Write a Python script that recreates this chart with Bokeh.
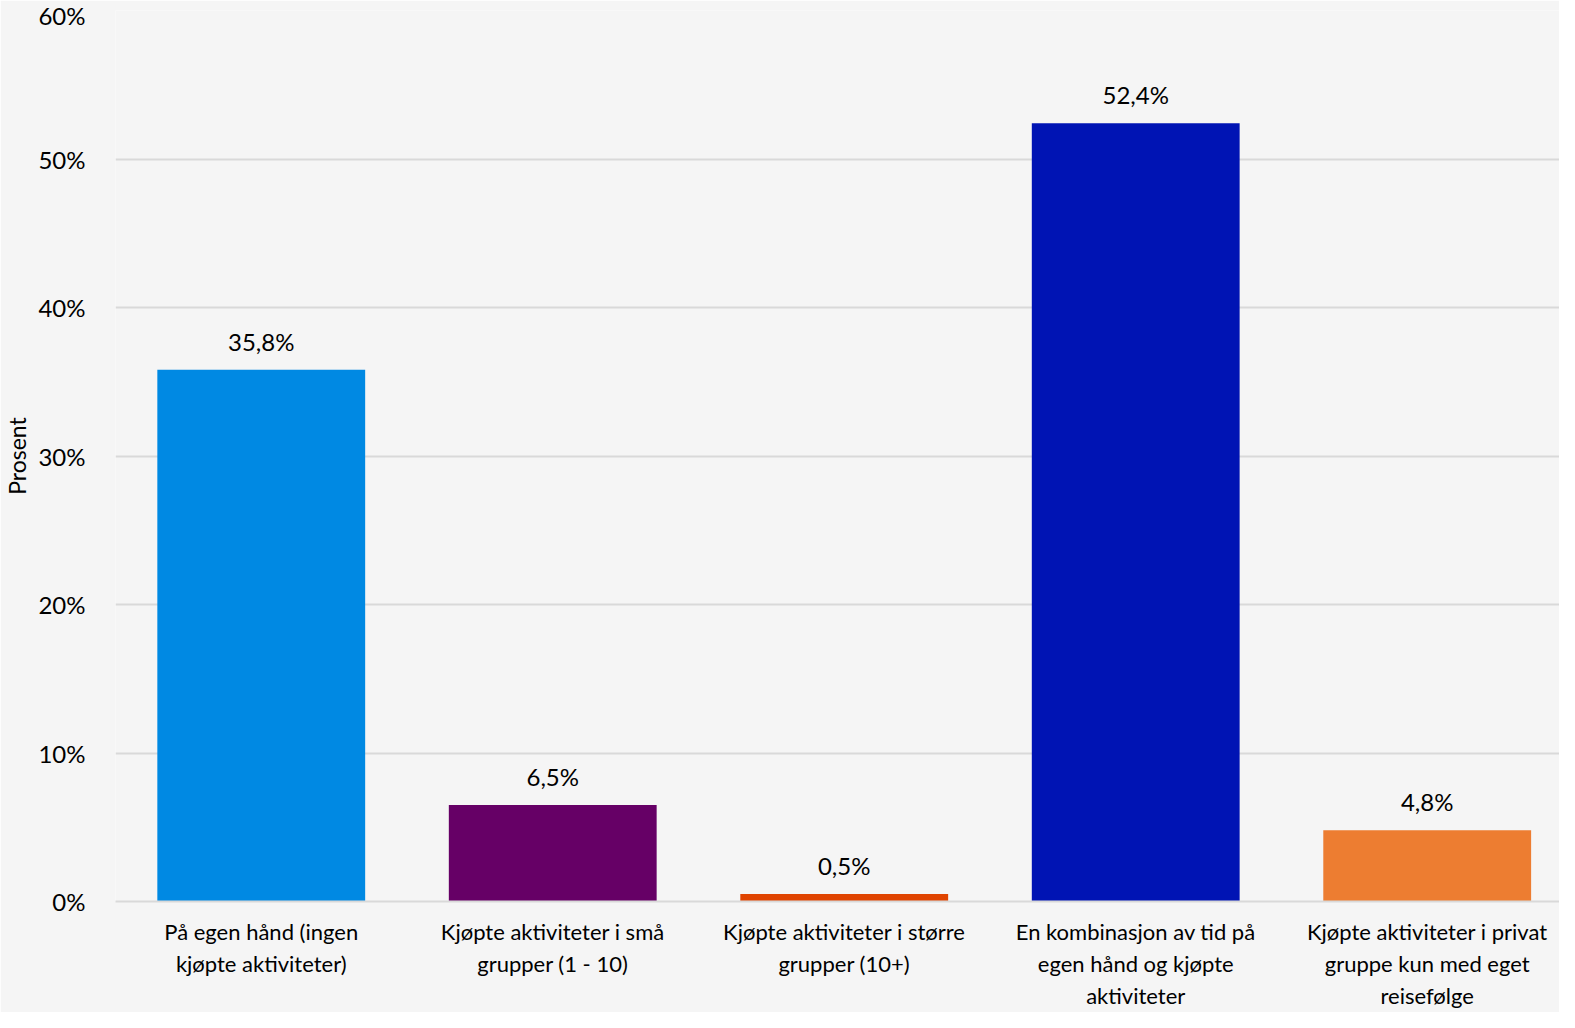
from bokeh.plotting import figure
from bokeh.models import ColumnDataSource, Range1d, FixedTicker, LabelSet
from bokeh.core.properties import value
from bokeh.embed import file_html
from bokeh.resources import INLINE

categories = [
    "På egen hånd (ingen\nkjøpte aktiviteter)",
    "Kjøpte aktiviteter i små\ngrupper (1 - 10)",
    "Kjøpte aktiviteter i større\ngrupper (10+)",
    "En kombinasjon av tid på\negen hånd og kjøpte\naktiviteter",
    "Kjøpte aktiviteter i privat\ngruppe kun med eget\nreisefølge",
]
values = [35.8, 6.5, 0.5, 52.4, 4.8]
colors = ["#0089e3", "#660066", "#e04400", "#0014b4", "#ed7d31"]
labels = ["35,8%", "6,5%", "0,5%", "52,4%", "4,8%"]
y_ticks = [0, 10, 20, 30, 40, 50, 60]

FONT = "Lato"
BG = "#f5f5f5"

xs = [i + 0.5 for i in range(len(categories))]
src = ColumnDataSource(dict(x=xs, top=values, color=colors, label=labels))

W, H = 1559, 1012
LEFT = 110
unit = 292.5
x_end = (W - LEFT) / unit

p = figure(width=W, height=H,
           output_backend="svg", toolbar_location=None,
           x_range=Range1d(0, x_end), y_range=Range1d(0, 60),
           background_fill_color=BG, border_fill_color=BG,
           min_border_left=LEFT, min_border_right=0,
           min_border_top=10, min_border_bottom=110)
p.outline_line_color = None

p.vbar(x="x", top="top", width=0.713, color="color", source=src, line_color=None)

p.add_layout(LabelSet(x="x", y="top", text="label", source=src,
                      text_align="center", text_baseline="bottom", y_offset=14,
                      text_font=value(FONT), text_font_size="24px", text_color="#000000"))

p.xaxis.ticker = FixedTicker(ticks=xs)
p.xaxis.major_label_overrides = {x: c for x, c in zip(xs, categories)}
p.xaxis.major_label_text_font = FONT
p.xaxis.major_label_text_font_size = "22px"
p.xaxis.major_label_text_color = "#000000"
p.xaxis.major_label_standoff = 10
p.xaxis.major_tick_line_color = None
p.xaxis.minor_tick_line_color = None
p.xaxis.axis_line_color = "#d9d9d9"
p.xaxis.axis_line_width = 2

p.yaxis.ticker = FixedTicker(ticks=y_ticks)
p.yaxis.major_label_overrides = {t: f"{t}%" for t in y_ticks}
p.yaxis.major_label_text_font = FONT
p.yaxis.major_label_text_font_size = "24px"
p.yaxis.major_label_text_color = "#000000"
p.yaxis.major_label_standoff = 24
p.yaxis.major_tick_line_color = None
p.yaxis.minor_tick_line_color = None
p.yaxis.axis_line_color = None
p.yaxis.axis_label = "Prosent"
p.yaxis.axis_label_text_font = FONT
p.yaxis.axis_label_text_font_size = "23px"
p.yaxis.axis_label_text_font_style = "normal"
p.yaxis.axis_label_text_color = "#000000"
p.yaxis.axis_label_standoff = 4

p.xgrid.grid_line_color = None
p.ygrid.grid_line_color = "#d9d9d9"
p.ygrid.grid_line_width = 2

html = file_html(p, INLINE)
html = html.replace("<body>", '<body style="background-color: #f5f5f5;">', 1)
open("out.html", "w").write(html)
